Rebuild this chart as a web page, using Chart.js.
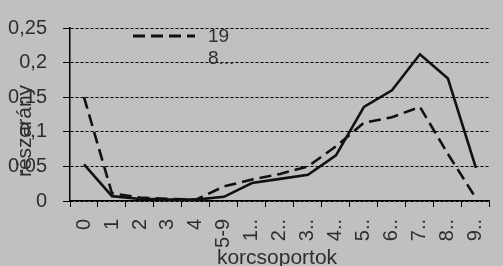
<!DOCTYPE html>
<html lang="hu">
<head>
    <meta charset="UTF-8">
    <title>részarány / korcsoportok</title>
    <script src="https://cdn.jsdelivr.net/npm/chart.js"></script>
    <style>
        html, body { margin: 0; padding: 0; background: #c0c0c0; overflow: hidden; }
        #wrap { width: 512px; height: 266px; }
    </style>
</head>
<body>
    <div id="wrap"><canvas id="korChart"></canvas></div>
    <script>
        // age groups (labels are truncated in the original too)
        const korcsoportok = ['0', '1', '2', '3', '4', '5-9', '1..', '2..', '3..', '4..', '5..', '6..', '7..', '8..', '9..'];
        // series
        const sor19 = [0.150, 0.011, 0.005, 0.003, 0.002, 0.021, 0.031, 0.039, 0.050, 0.079, 0.113, 0.121, 0.136, 0.068, 0.004];
        const sor8 = [0.053, 0.007, 0.003, 0.002, 0.002, 0.006, 0.026, 0.032, 0.038, 0.066, 0.136, 0.160, 0.212, 0.177, 0.048];
        const yTicks = [0, 0.05, 0.1, 0.15, 0.2, 0.25];

        const ink = '#111';
        const textColor = '#2e2e2e';
        const fontFam = '"Liberation Sans", Arial, sans-serif';

        // axis titles and the in-plot legend, placed like the original
        const decor = {
            id: 'decor',
            afterDraw(chart) {
                const ctx = chart.ctx;
                ctx.save();
                ctx.fillStyle = textColor;
                ctx.font = '21px ' + fontFam;
                ctx.textAlign = 'center';
                ctx.textBaseline = 'alphabetic';
                ctx.fillText('korcsoportok', 277, 264);

                ctx.save();
                ctx.translate(25, 131);
                ctx.rotate(-Math.PI / 2);
                ctx.font = '21px ' + fontFam;
                ctx.textBaseline = 'middle';
                ctx.fillText('részarány', 0, 0);
                ctx.restore();

                // legend
                const ds = chart.data.datasets;
                ctx.strokeStyle = ink;
                ctx.lineWidth = 3;
                ctx.setLineDash(ds[0].borderDash);
                ctx.beginPath();
                ctx.moveTo(133, 36);
                ctx.lineTo(195, 36);
                ctx.stroke();
                ctx.setLineDash([]);
                ctx.font = '19px ' + fontFam;
                ctx.textAlign = 'left';
                ctx.textBaseline = 'middle';
                ctx.fillText(ds[0].label, 208, 37);
                ctx.fillText(ds[1].label, 208, 59);
                ctx.restore();
            }
        };

        new Chart(document.getElementById('korChart'), {
            type: 'line',
            data: {
                labels: korcsoportok,
                datasets: [{
                    label: '19',
                    data: sor19,
                    borderColor: ink,
                    borderWidth: 2.6,
                    borderDash: [12, 6],
                    pointRadius: 0,
                    tension: 0
                }, {
                    label: '8...',
                    data: sor8,
                    borderColor: ink,
                    borderWidth: 2.6,
                    pointRadius: 0,
                    tension: 0
                }]
            },
            options: {
                responsive: true,
                maintainAspectRatio: false,
                animation: false,
                layout: { padding: { top: 15, left: 0, right: 2, bottom: 0 } },
                plugins: {
                    legend: { display: false },
                    tooltip: { enabled: false }
                },
                scales: {
                    x: {
                        offset: true,
                        grid: {
                            offset: true,
                            drawOnChartArea: false,
                            color: '#000',
                            tickLength: 6
                        },
                        border: { color: '#000', width: 1.5 },
                        ticks: {
                            autoSkip: false,
                            minRotation: 90,
                            maxRotation: 90,
                            padding: 12,
                            color: textColor,
                            font: { family: fontFam, size: 20 }
                        },
                        afterFit: s => { s.height = 65; }
                    },
                    y: {
                        min: 0,
                        max: 0.25,
                        afterBuildTicks: s => { s.ticks = yTicks.map(v => ({ value: v })); },
                        grid: {
                            color: '#000',
                            lineWidth: 1,
                            tickLength: 7,
                            tickBorderDash: []
                        },
                        border: { color: '#000', width: 1.5, dash: [3, 2] },
                        ticks: {
                            padding: 16,
                            color: textColor,
                            font: { family: fontFam, size: 20 },
                            callback: v => String(Math.round(v * 100) / 100).replace('.', ',')
                        },
                        afterFit: s => { s.width = 70; }
                    }
                }
            },
            plugins: [decor]
        });
    </script>
</body>
</html>
